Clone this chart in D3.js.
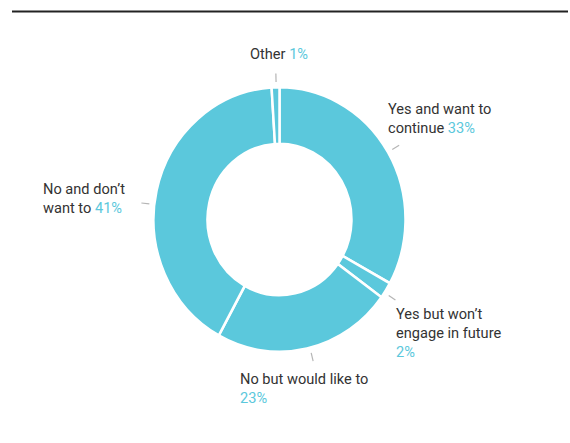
<!DOCTYPE html>
<html><head><meta charset="utf-8">
<script src="https://cdn.jsdelivr.net/npm/d3@7"></script>
<style>
html,body{margin:0;padding:0;background:#fff;}
text{font-family:Roboto,"DejaVu Sans",sans-serif;font-size:14.6px;}
</style></head>
<body><svg id="c" width="570" height="443"></svg>
<script>
const categories = ["Yes and want to continue","Yes but won’t engage in future","No but would like to","No and don’t want to","Other"];
const values = [33, 2, 23, 41, 1];
const labelLines = [
  ["Yes and want to","continue"],
  ["Yes but won’t","engage in future",""],
  ["No but would like to",""],
  ["No and don’t","want to"],
  ["Other"]
];
const pctLabels = ["33%","2%","23%","41%","1%"];

const W=570,H=443, cx=279.5, cy=219.5, R=126, r0=72, ky=1.05;
const blue="#5bc8dc", dark="#333333", grey="#b5b5b5";
const svg=d3.select("#c");

svg.append("line").attr("x1",12).attr("x2",568).attr("y1",11.5).attr("y2",11.5)
  .attr("stroke","#222").attr("stroke-width",2);

const pie=d3.pie().sort(null).value(d=>d)(values);
const arc=d3.arc().innerRadius(r0).outerRadius(R);
const g=svg.append("g").attr("transform",`translate(${cx},${cy}) scale(1,${ky})`);
g.selectAll("path").data(pie).join("path").attr("d",arc)
  .attr("fill",blue).attr("stroke","#fff").attr("stroke-width",2.5);

// layout: leader angle (deg), label anchor x, first baseline y, anchor
const layout=[
  {ang:59.4, x:388, y:114, anchor:"start"},
  {ang:123.5, x:396, y:319, anchor:"start"},
  {ang:166, x:240, y:384, anchor:"start"},
  {ang:276.5, x:43, y:194, anchor:"start"},
  {ang:358.5, x:279, y:59, anchor:"middle"}
];
const lh=19;
pie.forEach((p,i)=>{
  const L=layout[i];
  const a=L.ang*Math.PI/180;
  const s=Math.sin(a), c=-Math.cos(a);
  const r1=R+5, r2=R+13;
  svg.append("line")
    .attr("x1",cx+s*r1).attr("y1",cy+c*r1*ky)
    .attr("x2",cx+s*r2).attr("y2",cy+c*r2*ky)
    .attr("stroke",grey).attr("stroke-width",1.2);
  const lines=labelLines[i];
  const t=svg.append("text").attr("x",L.x).attr("y",L.y).attr("text-anchor",L.anchor).attr("fill",dark);
  lines.forEach((ln,j)=>{
    const last=j===lines.length-1;
    if(last && ln===""){
      t.append("tspan").attr("x",L.x).attr("dy",lh).attr("fill",blue).text(pctLabels[i]);
    } else {
      t.append("tspan").attr("x",L.x).attr("dy",j===0?0:lh).text(last?ln+" ":ln);
      if(last) t.append("tspan").attr("fill",blue).text(pctLabels[i]);
    }
  });
});
</script></body></html>
